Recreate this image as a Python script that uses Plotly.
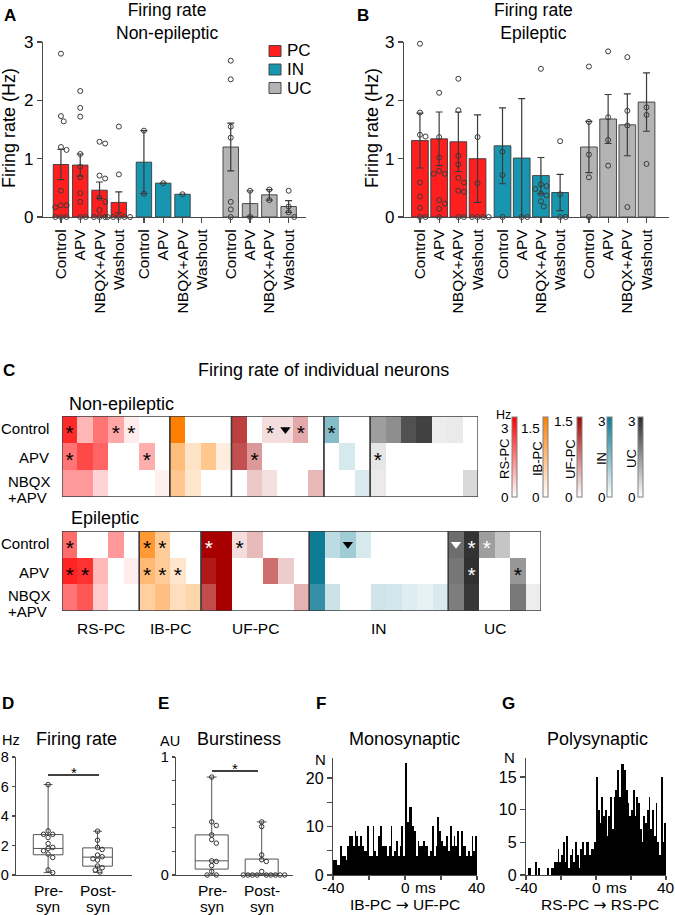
import numpy as np
import plotly.graph_objects as go

W, H = 675, 915
FONT = "Arial, Liberation Sans, Helvetica, sans-serif"
AX = "#4a4a4a"

# ---------------- Panel A / B data ----------------
conditions = ["Control", "APV", "NBQX+APV", "Washout"]
groups = ["PC", "IN", "UC"]
group_colors = ["#ff1f1f", "#1896b0", "#b4b4b4"]

a_pc_mean = [0.90, 0.89, 0.46, 0.25]
a_pc_sem = [0.26, 0.19, 0.14, 0.18]
a_pc_pts = [[2.80, 1.73, 1.64, 1.20, 1.15, 0.45, 0.20, 0.20, 0.17, 0, 0, 0],
            [2.16, 1.87, 1.72, 1.08, 0.86, 0.68, 0.41, 0.26, 0, 0],
            [1.29, 1.26, 0.71, 0.66, 0.33, 0.26, 0.12, 0, 0, 0],
            [1.55, 0.73, 0, 0, 0, 0, 0]]
a_in_mean = [0.94, 0.58, 0.39, None]
a_in_sem = [0.54, None, None, None]
a_in_pts = [[1.48, 0.40], [0.58], [0.39], []]
a_uc_mean = [1.20, 0.23, 0.38, 0.18]
a_uc_sem = [0.41, 0.22, 0.09, 0.10]
a_uc_pts = [[2.68, 2.36, 1.55, 1.36, 0.26, 0.13, 0], [0.45, 0], [0.47, 0.29], [0.45, 0.18, 0.08, 0]]

b_pc_mean = [1.31, 1.34, 1.29, 1.00]
b_pc_sem = [0.47, 0.46, 0.51, 0.75]
b_pc_pts = [[2.97, 1.79, 1.41, 1.38, 0.59, 0.35, 0.16, 0, 0],
            [2.13, 1.37, 1.02, 0.79, 0.74, 0.74, 0.29, 0.23, 0.14, 0],
            [2.37, 1.83, 1.05, 0.90, 0.67, 0.59, 0.45, 0.43, 0, 0],
            [1.37, 0.58, 0, 0, 0, 0]]
b_in_mean = [1.22, 1.01, 0.71, 0.42]
b_in_sem = [0.65, 1.02, 0.31, 0.31]
b_in_pts = [[1.12, 0.72, 0], [0, 0], [2.54, 0.56, 0.53, 0.48, 0.40, 0.37, 0.27, 0.18], [1.30, 0.39, 0, 0]]
b_uc_mean = [1.20, 1.68, 1.58, 1.97]
b_uc_sem = [0.44, 0.42, 0.53, 0.50]
b_uc_pts = [[2.58, 1.63, 1.07, 0.68, 0], [2.84, 1.71, 1.32, 0.88], [2.74, 1.82, 1.57, 0.17], [1.88, 1.75, 0.91]]

# ---------------- Panel C data (Hz) ----------------
cell_types = ["RS-PC", "IB-PC", "UF-PC", "IN", "UC"]
row_names = ["Control", "APV", "NBQX+APV"]
ne_rs = [[2.9, 1.0, 1.9, 1.2, 0.25, 0, 0], [1.9, 2.5, 2.1, 0, 0, 1.1, 0], [1.4, 1.4, 0.6, 0, 0, 0, 0.2]]
ne_ib = [[1.74, 0, 0, 0], [0.9, 0.38, 0.78, 0.23], [0.76, 0.35, 0, 0]]
ne_uf = [[1.13, 0, 0.2, 0.2, 0.5, 0], [1.03, 0.6, 0, 0, 0, 0], [0, 0.32, 0.18, 0, 0, 0.42]]
ne_in = [[1.5, 0, 0], [0, 0.5, 0], [0, 0, 0.45]]
ne_uc = [[1.38, 1.6, 2.47, 2.7, 0.25, 0.3, 0], [0.35, 0, 0, 0, 0, 0, 0], [0.3, 0, 0, 0, 0, 0, 0.55]]

ep_rs = [[2.0, 0, 0, 1.4, 0], [3.0, 2.8, 0.95, 0, 0.25], [1.9, 2.3, 0.7, 0, 0]]
ep_ib = [[1.39, 0.7, 0, 0], [0.95, 0.7, 0.35, 0], [0.65, 0.87, 0.45, 0.57]]
ep_uf = [[1.5, 1.5, 0.2, 0.4, 0, 0, 0], [1.35, 1.5, 0, 0, 0.85, 0.3, 0], [1.05, 1.5, 0, 0, 0, 0, 0.45]]
ep_in = [[2.95, 0.82, 1.16, 0.5, 0, 0, 0, 0, 0], [2.95, 0, 0, 0, 0, 0, 0, 0, 0],
         [2.5, 0.65, 0, 0, 0.58, 0.55, 0.4, 0.3, 0.48]]
ep_uc = [[2.07, 2.9, 1.38, 0.82, 0, 0], [1.95, 2.95, 0, 0, 1.48, 0], [1.85, 2.85, 0, 0, 1.92, 0.25]]

cmap_colors = ["#ff0000", "#ff7f00", "#a80000", "#0a7a94", "#2c2c2c"]
cmap_max = [3.48, 1.74, 1.5, 3.0, 3.0]
cbar_ticktext = [["3", "0"], ["1.5", "0"], ["1.5", "0"], ["3", "0"], ["3", "0"]]

# significance markers: (cell type index, column, row)
ne_star_black = [(0, 0, 0), (0, 3, 0), (0, 4, 0), (2, 2, 0), (2, 4, 0), (3, 0, 0),
                 (0, 0, 1), (0, 5, 1), (2, 1, 1), (4, 0, 1)]
ne_tri_black = [(2, 3, 0)]
ep_star_black = [(0, 0, 0), (1, 0, 0), (1, 1, 0), (2, 2, 0), (0, 0, 1), (0, 1, 1),
                 (1, 0, 1), (1, 1, 1), (1, 2, 1), (4, 4, 1)]
ep_star_white = [(2, 0, 0), (4, 1, 0), (4, 2, 0), (4, 1, 1)]
ep_tri_black = [(3, 2, 0)]
ep_tri_white = [(4, 0, 0)]

# ---------------- Panel D / E data ----------------
box_labels = ["Pre-", "Post-"]
d_pre = [6.13, 2.99, 2.76, 2.76, 2.54, 2.13, 1.87, 1.80, 1.64, 1.42, 1.19, 0.34, 0.16]
d_post = [2.97, 2.36, 1.87, 1.73, 1.35, 1.24, 1.10, 1.01, 0.61, 0.49, 0.34, 0.20]
d_q1, d_med, d_q3 = [1.37, 0.60], [1.80, 1.21], [2.74, 1.84]
d_lo, d_hi = [0.16, 0.18], [6.13, 2.97]
e_pre = [0.83, 0.45, 0.42, 0.34, 0.30, 0.27, 0.12, 0.115, 0.08, 0.03, 0, 0]
e_post = [0.45, 0.41, 0.17, 0.13, 0.115, 0.03, 0, 0, 0, 0, 0, 0, 0, 0, 0]
e_q1, e_med, e_q3 = [0.05, 0.0], [0.12, 0.0], [0.34, 0.135]
e_lo, e_hi = [0.0, 0.0], [0.83, 0.45]

# ---------------- Panel F / G data (1 ms bins, -40..40 ms) ----------------
f_counts = [3, 3, 2, 2, 6, 4, 4, 3, 6, 8, 8, 6, 9, 8, 6, 8, 6, 5, 5, 10,
            4, 4, 10, 5, 4, 8, 10, 6, 6, 6, 4, 6, 10, 4, 5, 7, 4, 6, 10, 4,
            23, 11, 14, 14, 10, 9, 4, 7, 6, 6, 7, 6, 6, 4, 5, 10, 4, 6, 12, 9,
            7, 6, 6, 8, 5, 10, 6, 8, 6, 9, 4, 9, 6, 6, 4, 5, 4, 8, 5, 8]
g_counts = [0, 1, 1, 0, 0, 2, 0, 1, 0, 0, 0, 0, 1, 0, 1, 1, 2, 2, 4, 2,
            3, 5, 2, 6, 1, 3, 4, 2, 5, 3, 1, 4, 5, 3, 5, 5, 3, 4, 4, 5,
            15, 10, 8, 12, 9, 10, 6, 9, 12, 7, 12, 13, 16, 12, 17, 17, 16, 13, 11, 9,
            10, 13, 9, 12, 11, 7, 5, 9, 8, 10, 12, 7, 10, 6, 11, 5, 3, 15, 5, 8]
bin_left = list(range(-40, 40))
lag_ticks = [-40, -20, 0, 20, 40]
lag_labels = ["-40", "", "0", "", "40"]


# ---------------- helpers ----------------
def xd(a, b):
    return [a / W, b / W]


def yd(top, bottom):
    return [1 - bottom / H, 1 - top / H]


def swarm(vals, xppu, yppu, d):
    placed, offs = [], []
    cands = [0.0]
    for i in range(1, 20):
        cands += [i * d * 0.5, -i * d * 0.5]
    for v in vals:
        yv = v * yppu
        for c in cands:
            if all((c - p) ** 2 + (yv - q) ** 2 >= d * d * 0.95 for p, q in placed):
                break
        placed.append((c, yv))
        offs.append(c / xppu)
    return offs


annotations = []
shapes = []


def ann(text, x, y, size=15, xanchor="center", yanchor="middle", angle=0, color="black"):
    annotations.append(dict(text=text, x=x / W, y=1 - y / H, xref="paper", yref="paper", showarrow=False,
                            font=dict(size=size, color=color, family=FONT), xanchor=xanchor,
                            yanchor=yanchor, textangle=angle, borderpad=0))


fig = go.Figure()

axis_base = dict(showline=True, linecolor=AX, linewidth=1.2, ticks="outside", ticklen=5, tickcolor=AX,
                 tickwidth=1.2, showgrid=False, zeroline=False, tickfont=dict(size=17, family=FONT, color="black"),
                 fixedrange=True)

# ---------------- Panels A and B ----------------
bar_pos = [[0, 1, 2, 3], [4.3, 5.3, 6.3, 7.3], [8.8, 9.8, 10.8, 11.8]]
panelsAB = [
    ("x", "y", [a_pc_mean, a_in_mean, a_uc_mean], [a_pc_sem, a_in_sem, a_uc_sem],
     [a_pc_pts, a_in_pts, a_uc_pts], 0.80, 19.3),
    ("x2", "y2", [b_pc_mean, b_in_mean, b_uc_mean], [b_pc_sem, b_in_sem, b_uc_sem],
     [b_pc_pts, b_in_pts, b_uc_pts], 0.87, 19.2),
]
for xa, ya, means, sems, pts, bw, xppu in panelsAB:
    for gi in range(3):
        fig.add_trace(go.Bar(x=bar_pos[gi], y=means[gi], width=bw, xaxis=xa, yaxis=ya,
                             marker=dict(color=group_colors[gi], line=dict(color="#3a3a3a", width=0.9)),
                             error_y=dict(type="data", array=sems[gi], color="#3a3a3a", thickness=1.2, width=3.5),
                             showlegend=False, hoverinfo="skip"))
        xs, ys = [], []
        for ci in range(4):
            offs = swarm(pts[gi][ci], xppu, 58.3, 5.6)
            xs += [bar_pos[gi][ci] + o for o in offs]
            ys += pts[gi][ci]
        fig.add_trace(go.Scatter(x=xs, y=ys, mode="markers", xaxis=xa, yaxis=ya, cliponaxis=False,
                                 marker=dict(symbol="circle-open", size=5, color="#3a3a3a", line=dict(width=1)),
                                 showlegend=False, hoverinfo="skip"))

tickvals_ab = bar_pos[0] + bar_pos[1] + bar_pos[2]
ticktext_ab = conditions * 3
xa_common = dict(axis_base, tickvals=tickvals_ab, ticktext=ticktext_ab, tickangle=-90,
                 tickfont=dict(size=15.5, family=FONT, color="black"))
ya_common = dict(axis_base, range=[0, 3], tickvals=[0, 1, 2, 3])

layout_axes = {}
layout_axes["xaxis"] = dict(xa_common, domain=xd(43, 306), range=[-0.93, 12.7], anchor="y")
layout_axes["yaxis"] = dict(ya_common, domain=yd(42, 217), anchor="x")
layout_axes["xaxis2"] = dict(xa_common, domain=xd(404, 669), range=[-0.83, 12.97], anchor="y2")
layout_axes["yaxis2"] = dict(ya_common, domain=yd(42, 217), anchor="x2")

ann("<b>A</b>", 10, 15, size=17)
ann("<b>B</b>", 363, 15, size=17)
ann("Firing rate<br>Non-epileptic", 167, 21, size=17.5)
ann("Firing rate<br>Epileptic", 533, 21, size=17.5)
ann("Firing rate (Hz)", 9, 128, size=18, angle=-90)
ann("Firing rate (Hz)", 372, 128, size=18, angle=-90)
# legend for panel A
for i, (g, c) in enumerate(zip(groups, group_colors)):
    yc = 51 + i * 18.5
    shapes.append(dict(type="rect", xref="paper", yref="paper", x0=269 / W, x1=281 / W,
                       y0=1 - (yc + 5.5) / H, y1=1 - (yc - 5.5) / H, fillcolor=c,
                       line=dict(color="#3a3a3a", width=0.9)))
    ann(g, 286, yc, size=17, xanchor="left")

# ---------------- Panel C ----------------
ann("<b>C</b>", 9, 370, size=17)
ann("Firing rate of individual neurons", 323, 370, size=18)
ann("Non-epileptic", 68, 404, size=18, xanchor="left")
ann("Epileptic", 70, 518, size=18, xanchor="left")

heat_sets = [
    ("x3", "y3", [ne_rs, ne_ib, ne_uf, ne_in, ne_uc], (62, 478, 416, 497),
     [(ne_star_black, "*", "black"), (ne_tri_black, "tri", "black")]),
    ("x4", "y4", [ep_rs, ep_ib, ep_uf, ep_in, ep_uc], (62, 541, 531, 611),
     [(ep_star_black, "*", "black"), (ep_star_white, "*", "white"),
      (ep_tri_black, "tri", "black"), (ep_tri_white, "tri", "white")]),
]
for si, (xa, ya, mats, (l, r, t, b), marks) in enumerate(heat_sets):
    offsets = [0]
    for m in mats:
        offsets.append(offsets[-1] + len(m[0]))
    total = offsets[-1]
    for gi, m in enumerate(mats):
        fig.add_trace(go.Heatmap(z=m, x0=offsets[gi] + 0.5, dx=1, y0=0.5, dy=1, xaxis=xa, yaxis=ya,
                                 coloraxis="coloraxis%d" % (gi + 1), hoverinfo="skip", xgap=0, ygap=0))
        shapes.append(dict(type="rect", xref=xa, yref=ya, x0=offsets[gi], x1=offsets[gi + 1], y0=0, y1=3,
                           line=dict(color="#3c3c3c", width=1.3)))
    for lst, kind, col in marks:
        xs = [offsets[g] + c + 0.5 for g, c, rr in lst]
        if kind == "*":
            ys = [rr + 0.5 + 0.2 for g, c, rr in lst]
            fig.add_trace(go.Scatter(x=xs, y=ys, mode="text", text=["*"] * len(xs), xaxis=xa, yaxis=ya,
                                     textfont=dict(size=21, color=col, family=FONT), showlegend=False,
                                     hoverinfo="skip"))
        else:
            ys = [rr + 0.5 for g, c, rr in lst]
            fig.add_trace(go.Scatter(x=xs, y=ys, mode="markers", xaxis=xa, yaxis=ya,
                                     marker=dict(symbol="triangle-down", size=9, color=col, line=dict(width=0)),
                                     showlegend=False, hoverinfo="skip"))
    n = si + 3
    layout_axes["xaxis%d" % n] = dict(domain=xd(l, r), range=[0, total], visible=False, fixedrange=True,
                                      anchor="y%d" % n)
    layout_axes["yaxis%d" % n] = dict(domain=yd(t, b), range=[3, 0], visible=False, fixedrange=True,
                                      anchor="x%d" % n)
    rows_y = [t + (b - t) * (k + 0.5) / 3 for k in range(3)]
    ann("Control", 50, rows_y[0] - 1, size=15, xanchor="right")
    ann("APV", 50, rows_y[1] + 1, size=15, xanchor="right")
    ann("NBQX", 7, rows_y[2] - 2.5, size=15, xanchor="left")
    ann("+APV", 7, rows_y[2] + 13.5, size=15, xanchor="left")
    if si == 1:
        for gi, name in enumerate(cell_types):
            cx = l + (r - l) * (offsets[gi] + offsets[gi + 1]) / 2 / total
            ann(name, cx, 628, size=15.5)

# colorbars
cbar_left = [511.5, 542.5, 576.5, 607, 637.5]
cbar_label_right = [510, 541, 574, 606.5, 637]
cbar_top_label_y = [429, 429, 421, 421, 421]
cbar_title_x = [504, 537, 570, 601, 631]
coloraxes = {}
for k in range(5):
    coloraxes["coloraxis%d" % (k + 1)] = dict(
        colorscale=[[0, "#ffffff"], [1, cmap_colors[k]]], cmin=0, cmax=cmap_max[k],
        showscale=True,
        colorbar=dict(x=cbar_left[k] / W, xanchor="left", y=1 - 417 / H, yanchor="top", len=80,
                      lenmode="pixels", thickness=5, thicknessmode="pixels", outlinewidth=1,
                      outlinecolor="#808080", showticklabels=False, ticks="", xpad=0, ypad=0,
                      bgcolor="rgba(0,0,0,0)"))
    ann(cbar_ticktext[k][0], cbar_label_right[k], cbar_top_label_y[k], size=13.5, xanchor="right")
    ann(cbar_ticktext[k][1], cbar_label_right[k], 497, size=13.5, xanchor="right")
    ann(cell_types[k], cbar_title_x[k], 459, size=13, angle=-90)
ann("Hz", 503, 415, size=12.5)

# ---------------- Panels D and E ----------------
for (xa, ya, q1, med, q3, lo, hi, pre, post, bw, xppu, yppu, dom, rng, ytv, ytt, yrng) in [
    ("x5", "y5", d_q1, d_med, d_q3, d_lo, d_hi, d_pre, d_post, 0.6, 49.5, 14.75, xd(16, 132),
     [-0.65, 1.697], [0, 2, 4, 6, 8], ["0", "2", "4", "6", "8"], [0, 8]),
    ("x6", "y6", e_q1, e_med, e_q3, e_lo, e_hi, e_pre, e_post, 0.66, 50, 118, xd(176, 293),
     [-0.714, 1.626], [0, 0.2, 0.4, 0.6, 0.8, 1.0], ["0", "", "", "", "", "1"], [0, 1]),
]:
    fig.add_trace(go.Box(x=[0, 1], q1=q1, median=med, q3=q3, lowerfence=lo, upperfence=hi, width=bw,
                         whiskerwidth=0.3, fillcolor="white", line=dict(color="#555555", width=1),
                         boxpoints=False, xaxis=xa, yaxis=ya, showlegend=False, hoverinfo="skip"))
    xs, ys = [], []
    for pos, p in [(0, pre), (1, post)]:
        offs = swarm(p, xppu, yppu, 4.6)
        xs += [pos + o for o in offs]
        ys += p
    fig.add_trace(go.Scatter(x=xs, y=ys, mode="markers", xaxis=xa, yaxis=ya, cliponaxis=False,
                             marker=dict(symbol="circle-open", size=4.5, color="#333333", line=dict(width=1)),
                             showlegend=False, hoverinfo="skip"))
    n = int(xa[1:])
    layout_axes["xaxis%d" % n] = dict(axis_base, domain=dom, range=rng, ticks="", showticklabels=False,
                                      anchor="y%d" % n)
    layout_axes["yaxis%d" % n] = dict(axis_base, tickvals=ytv, ticktext=ytt, domain=yd(757, 875), range=yrng,
                                      anchor="x%d" % n, ticklen=3,
                                      tickfont=dict(size=14.5, family=FONT, color="black"))

ann("<b>D</b>", 8, 703, size=17)
ann("<b>E</b>", 163, 703, size=17)
ann("Firing rate", 76, 739, size=18)
ann("Burstiness", 239, 739, size=18)
ann("Hz", 11, 740, size=14.5)
ann("AU", 170, 741, size=14.5)
for cx in (48, 212):
    ann(box_labels[0], cx, 890, size=15.5)
    ann("syn", cx, 906, size=15.5)
for cx in (98, 262):
    ann(box_labels[1], cx, 890, size=15.5)
    ann("syn", cx, 906, size=15.5)
shapes.append(dict(type="line", xref="paper", yref="paper", x0=48 / W, x1=99 / W, y0=1 - 775 / H,
                   y1=1 - 775 / H, line=dict(color="black", width=1.5)))
shapes.append(dict(type="line", xref="paper", yref="paper", x0=212 / W, x1=258 / W, y0=1 - 771 / H,
                   y1=1 - 771 / H, line=dict(color="black", width=1.5)))
ann("*", 74, 772, size=15)
ann("*", 235, 768, size=15)

# ---------------- Panels F and G ----------------
for xa, ya, counts, dom, ytv, ytt, yrng in [
    ("x7", "y7", f_counts, xd(333, 477), [0, 5, 10, 15, 20], ["0", "", "10", "", "20"], [0, 24.1]),
    ("x8", "y8", g_counts, xd(526, 666), [0, 5, 10, 15], ["0", "5", "10", "15"], [0, 17.9]),
]:
    fig.add_trace(go.Bar(x=[b + 0.5 for b in bin_left], y=counts, width=1, xaxis=xa, yaxis=ya,
                         marker=dict(color="black", line=dict(width=0)), showlegend=False, hoverinfo="skip"))
    n = int(xa[1:])
    layout_axes["xaxis%d" % n] = dict(axis_base, domain=dom, range=[-40, 40], tickvals=lag_ticks,
                                      showticklabels=False, anchor="y%d" % n, ticklen=4)
    layout_axes["yaxis%d" % n] = dict(axis_base, domain=yd(758, 875), range=yrng, tickvals=ytv, ticktext=ytt,
                                      anchor="x%d" % n, tickfont=dict(size=16, family=FONT, color="black"))
    for tv, tl in zip(lag_ticks, lag_labels):
        if tl:
            annotations.append(dict(text=tl, x=tv, y=1 - 887 / H, xref=xa, yref="paper", showarrow=False,
                                    font=dict(size=15.5, family=FONT, color="black"), xanchor="center",
                                    yanchor="middle", borderpad=0))
    annotations.append(dict(text="ms", x=5.0, y=1 - 887 / H, xref=xa, yref="paper", showarrow=False,
                            font=dict(size=15.5, family=FONT, color="black"), xanchor="left",
                            yanchor="middle", borderpad=0))

ARROW = '<span style="font-family:DejaVu Sans">\u2192</span>'
ann("<b>F</b>", 321, 703, size=17)
ann("<b>G</b>", 508, 703, size=17)
ann("Monosynaptic", 404, 739, size=18)
ann("Polysynaptic", 597, 739, size=18)
ann("N", 320, 759, size=15)
ann("N", 509, 757, size=15)
ann("IB-PC " + ARROW + " UF-PC", 405, 905, size=15.5)
ann("RS-PC " + ARROW + " RS-PC", 600, 905, size=15.5)

fig.update_layout(
    width=W, height=H, margin=dict(l=0, r=0, t=0, b=0, autoexpand=False),
    paper_bgcolor="white", plot_bgcolor="white", showlegend=False,
    font=dict(family=FONT, color="black"), bargap=0,
    annotations=annotations, shapes=shapes, **layout_axes, **coloraxes,
)

fig.write_html("out.html", config={"displayModeBar": False, "staticPlot": True},
               post_script="document.body.style.margin='0px';document.body.style.overflow='hidden';")
with open("out.html", "r", encoding="utf-8") as fh:
    html = fh.read()
html = html.replace("<head>", "<head><style>html,body{margin:0;padding:0;overflow:hidden;}</style>", 1)
with open("out.html", "w", encoding="utf-8") as fh:
    fh.write(html)
